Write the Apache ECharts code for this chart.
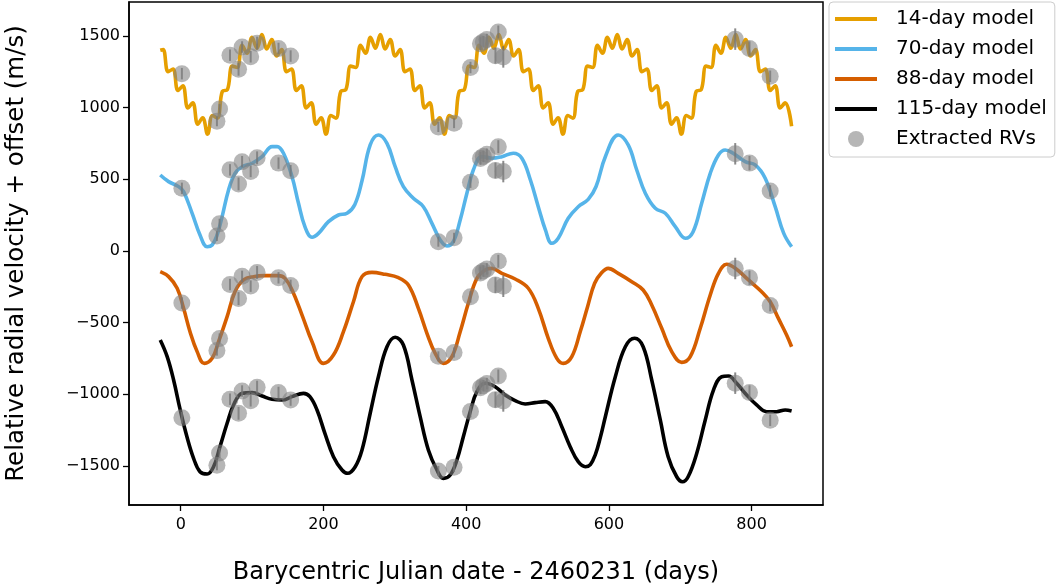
<!DOCTYPE html>
<html>
<head>
<meta charset="utf-8">
<script src="https://cdn.jsdelivr.net/npm/echarts@6/dist/echarts.min.js"></script>
<style>
html, body { margin: 0; padding: 0; background: #fff; }
#chart { width: 1059px; height: 585px; }
</style>
</head>
<body>
<div id="chart"></div>
<script>
// model curves: [day, rv + offset]
var model14 = [
    [-28.7, 1400], [-24.6, 1405], [-17.7, 1250], [-10.8, 1270], [-3.9, 1120], [3.0, 1153], [10.0, 998], [16.9, 1033],
    [23.8, 884], [30.7, 930], [37.6, 815], [44.5, 945], [51.4, 927], [58.4, 1115], [65.3, 1125], [72.2, 1290],
    [79.1, 1280], [86.0, 1435], [92.9, 1380], [99.9, 1490], [106.8, 1415],
    [113.7, 1510], [120.6, 1410], [127.5, 1475], [134.5, 1360], [141.4, 1405], [148.3, 1250], [155.2, 1270], [162.1, 1120],
    [169.0, 1153], [175.9, 998], [182.9, 1033], [189.8, 884], [196.7, 930], [203.6, 815], [210.5, 945], [217.5, 927],
    [224.4, 1115], [231.3, 1125], [238.2, 1290], [245.1, 1280], [252.0, 1435], [259.0, 1380], [265.9, 1490], [272.8, 1415],
    [279.7, 1510], [286.6, 1410], [293.5, 1475], [300.5, 1360], [307.4, 1405], [314.3, 1250], [321.2, 1270], [328.1, 1120],
    [335.0, 1153], [341.9, 998], [348.9, 1033], [355.8, 884], [362.7, 930], [369.6, 815], [376.5, 945], [383.5, 927],
    [390.4, 1115], [397.3, 1125], [404.2, 1290], [411.1, 1280], [418.0, 1435], [425.0, 1380], [431.9, 1490], [438.8, 1415],
    [445.7, 1510], [452.6, 1410], [459.5, 1475], [466.5, 1360], [473.4, 1405], [480.3, 1250], [487.2, 1270], [494.1, 1120],
    [501.0, 1153], [507.9, 998], [514.9, 1033], [521.8, 884], [528.7, 930], [535.6, 815], [542.5, 945], [549.5, 927],
    [556.4, 1115], [563.3, 1125], [570.2, 1290], [577.1, 1280], [584.0, 1435], [591.0, 1380], [597.9, 1490], [604.8, 1415],
    [611.7, 1510], [618.6, 1410], [625.5, 1475], [632.5, 1360], [639.4, 1405], [646.3, 1250], [653.2, 1270], [660.1, 1120],
    [667.0, 1153], [673.9, 998], [680.9, 1033], [687.8, 884], [694.7, 930], [701.6, 815], [708.5, 945], [715.5, 927],
    [722.4, 1115], [729.3, 1125], [736.2, 1290], [743.1, 1280], [750.0, 1435], [757.0, 1380], [763.9, 1490], [770.8, 1415],
    [777.7, 1510], [784.6, 1410], [791.5, 1475], [798.5, 1360], [805.4, 1405], [812.3, 1250], [819.2, 1270], [826.1, 1120],
    [833.0, 1153], [839.9, 998], [846.9, 1033], [856, 870]
];
var model70 = [
    [-28.7, 530], [-17, 484], [-3, 449], [4, 414], [16, 263], [27, 112], [37, 30], [44, 42], [51, 112], [58, 240],
    [67, 426], [76, 542], [86, 588], [100, 612], [114, 658], [128, 728], [135, 728], [144, 682], [156, 518], [165, 333],
    [174, 170], [184, 96], [193, 123], [207, 205], [221, 251], [233, 263], [244, 325], [254, 490], [265.5, 740], [277, 809],
    [289, 751], [300.5, 588], [312, 449], [326, 368], [340, 309], [352, 193], [363.6, 77], [373, 35], [382, 65], [391.6, 216],
    [401, 403], [410, 565], [422, 658], [436, 647], [450, 658], [466, 682], [478, 647], [490, 495], [501, 309], [511, 147],
    [520, 54], [529, 89], [543, 228], [557, 309], [571, 360], [582, 450], [595, 658], [613, 809], [627, 740], [639, 565],
    [651, 403], [665, 298], [679, 263], [693, 170], [707, 89], [718, 135], [730, 333], [742, 542], [753.5, 670], [763, 705],
    [774, 682], [791, 623], [805, 600], [819, 507], [833, 309], [845, 123], [856, 30]
];
var model88 = [
    [-28.7, -144], [-17, -179], [-5, -260], [4, -400], [13, -563], [23, -702], [33, -784], [44, -749], [53, -633], [65, -458],
    [76, -284], [88, -202], [102, -179], [118, -172], [137, -172], [146, -191], [156, -272], [170, -447], [184, -633], [200, -784],
    [214, -726], [228, -563], [242, -354], [254, -179], [268, -149], [286.5, -163], [305, -186], [319, -237], [333, -400], [345, -574],
    [356.6, -714], [368, -784], [380, -737], [391.6, -563], [403, -365], [415, -191], [426.6, -133], [436, -121], [450, -156], [468.6, -195],
    [487, -260], [501, -400], [515, -609], [527, -749], [536, -784], [548, -737], [560, -560], [570, -390], [580, -225],
    [590, -150], [599, -121], [613, -156], [632, -214], [648, -272], [660, -377], [674, -539], [688, -702], [702, -777], [714, -737],
    [728, -539], [742, -307], [753.5, -156], [765, -93], [777, -121], [795.5, -202], [814, -284], [826, -354], [837.5, -470], [849, -586],
    [856, -668]
];
var model115 = [
    [-28.7, -621], [-19, -737], [-10, -900], [-0.7, -1109], [8.7, -1296], [18, -1446], [27, -1540], [37, -1556], [46, -1505], [55, -1365],
    [65, -1202], [74, -1074], [86, -993], [100, -988], [114, -1012], [128, -1035], [142, -1040], [156, -1016], [172, -993], [181, -1016],
    [191, -1109], [202, -1272], [214, -1435], [226, -1528], [234, -1551], [244.5, -1505], [254, -1388], [265.5, -1132], [277, -877], [289, -668],
    [300.5, -602], [312, -656], [324, -900], [335.5, -1156], [347, -1388], [359, -1528], [368, -1586], [377.6, -1563], [387, -1458], [396, -1296],
    [405.6, -1121], [415, -981], [426.6, -923], [440.6, -947], [454.6, -1005], [468.6, -1044], [482.7, -1067], [496.7, -1058], [510.7, -1051], [522, -1097],
    [534, -1226], [545.7, -1365], [557, -1470], [567, -1505], [574, -1490], [581, -1420], [588, -1300], [595, -1156], [609, -877], [623, -668], [636, -609],
    [648, -668], [660, -900], [672, -1179], [683, -1435], [695, -1575], [703, -1610], [711, -1575], [723, -1412], [735, -1179], [746.5, -970],
    [758, -877], [767.5, -872], [779, -923], [793, -1005], [807, -1074], [821, -1121], [835, -1121], [847, -1109], [856, -1116]
];

// extracted RVs (level of the 70-day curve) and their error bars
var rvDays = [1.6, 50.7, 54.4, 69, 81, 86, 98, 107, 137, 154, 361, 383, 406, 420, 424, 429, 441, 445, 452, 777, 797, 826];
var rvBase = [437, 105, 190, 566, 468, 623, 555, 650, 613, 560, 65, 92, 480, 646, 660, 675, 562, 728, 554, 678, 613, 419];
var rvErr = [40, 35, 35, 40, 45, 40, 40, 45, 40, 40, 35, 35, 40, 45, 40, 40, 55, 45, 75, 75, 50, 40];

// vertical offsets of each panel
var offset14 = 800;
var offset70 = 0;
var offset88 = -800;
var offset115 = -1600;

var xTicks = [0, 200, 400, 600, 800];
var yTicks = [-1500, -1000, -500, 0, 500, 1000, 1500];

var font = "DejaVu Sans";
var myChart = echarts.init(document.getElementById("chart"));

var rvPoints = [];
[offset14, offset70, offset88, offset115].forEach(function(off) {
    for (var i = 0; i < rvDays.length; i++) {
        rvPoints.push([rvDays[i], rvBase[i] + off, rvErr[i]]);
    }
});

function modelLine(name, data, color) {
    return {
        name: name,
        type: 'line',
        data: data,
        smooth: 0.4,
        symbol: 'none',
        z: 2,
        color: color,
        lineStyle: { color: color, width: 3.6 },
        emphasis: { disabled: true }
    };
}

var linePath = 'path://M0,0 H40 V3.6 H0 Z';

var option = {
    animation: false,
    backgroundColor: '#ffffff',
    grid: {
        left: 129,
        right: 236,
        top: 2,
        bottom: 80,
        containLabel: false,
        outerBoundsMode: 'none',
        show: true,
        borderColor: '#000',
        borderWidth: 1.5
    },
    legend: {
        orient: 'vertical',
        left: 829,
        top: 2,
        itemWidth: 42,
        itemHeight: 16,
        itemGap: 10,
        padding: [7, 8, 8, 6],
        borderColor: '#cccccc',
        borderWidth: 1,
        borderRadius: 4,
        backgroundColor: '#fff',
        textStyle: { fontFamily: font, fontSize: 20, color: '#000', padding: [0, 0, 0, 14] },
        data: [
            { name: '14-day model', icon: linePath },
            { name: '70-day model', icon: linePath },
            { name: '88-day model', icon: linePath },
            { name: '115-day model', icon: linePath },
            { name: 'Extracted RVs', icon: 'circle' }
        ]
    },
    xAxis: {
        type: 'value',
        min: -72.5,
        max: 900,
        name: 'Barycentric Julian date - 2460231 (days)',
        nameLocation: 'middle',
        nameGap: 56,
        nameTextStyle: { fontFamily: font, fontSize: 24, color: '#000' },
        splitLine: { show: false },
        axisLine: { show: true, onZero: false, lineStyle: { color: '#000', width: 1.5 } },
        axisTick: { show: true, customValues: xTicks, length: 6, lineStyle: { color: '#000', width: 1.3 } },
        axisLabel: { customValues: xTicks, fontFamily: font, fontSize: 16, color: '#000', margin: 12 }
    },
    yAxis: {
        type: 'value',
        min: -1772,
        max: 1737,
        name: 'Relative radial velocity + offset (m/s)',
        nameLocation: 'middle',
        nameGap: 100,
        nameTextStyle: { fontFamily: font, fontSize: 24.5, color: '#000' },
        splitLine: { show: false },
        axisLine: { show: true, onZero: false, lineStyle: { color: '#000', width: 1.5 } },
        axisTick: { show: true, customValues: yTicks, length: 6, lineStyle: { color: '#000', width: 1.3 } },
        axisLabel: {
            customValues: yTicks,
            fontFamily: font,
            fontSize: 16,
            color: '#000',
            margin: 9,
            formatter: function(v) { return String(v).replace('-', '\u2212'); }
        }
    },
    series: [
        modelLine('14-day model', model14, '#E69F00'),
        modelLine('70-day model', model70, '#56B4E9'),
        modelLine('88-day model', model88, '#D55E00'),
        modelLine('115-day model', model115, '#000000'),
        {
            name: 'errbars',
            type: 'custom',
            data: rvPoints,
            z: 3,
            silent: true,
            encode: { x: 0, y: 1 },
            renderItem: function(params, api) {
                var x = api.value(0), y = api.value(1), e = api.value(2);
                var p1 = api.coord([x, y - e]);
                var p2 = api.coord([x, y + e]);
                return {
                    type: 'line',
                    shape: { x1: p1[0], y1: p1[1], x2: p2[0], y2: p2[1] },
                    style: { stroke: 'rgba(100,100,100,0.75)', lineWidth: 2 }
                };
            }
        },
        {
            name: 'Extracted RVs',
            type: 'scatter',
            data: rvPoints,
            symbol: 'circle',
            symbolSize: 17,
            z: 4,
            color: 'rgba(128,128,128,0.72)',
            itemStyle: { color: 'rgba(128,128,128,0.72)' },
            emphasis: { disabled: true }
        }
    ]
};

myChart.setOption(option);
</script>
</body>
</html>
